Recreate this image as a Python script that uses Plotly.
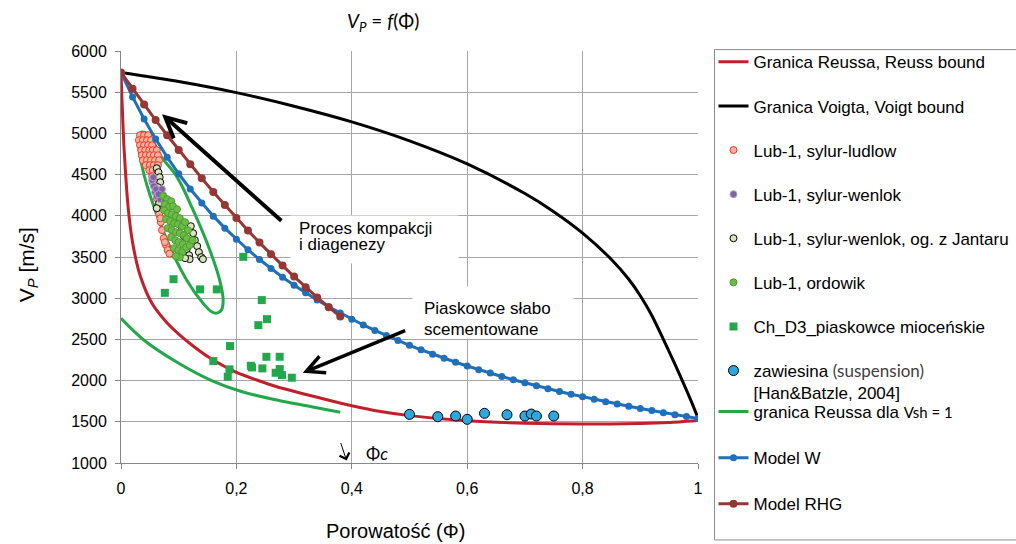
import plotly.graph_objects as go

# ---------------- data ----------------
x_tickvals = [0, 0.2, 0.4, 0.6, 0.8, 1.0]
x_ticktext = ["0", "0,2", "0,4", "0,6", "0,8", "1"]
y_tickvals = [1000, 1500, 2000, 2500, 3000, 3500, 4000, 4500, 5000, 5500, 6000]
y_ticktext = ["1000", "1500", "2000", "2500", "3000", "3500", "4000", "4500", "5000", "5500", "6000"]

reuss_phi = [0, 0.002, 0.005, 0.01, 0.015, 0.02, 0.03, 0.04, 0.05, 0.06, 0.08, 0.1, 0.125,
             0.155, 0.2, 0.27, 0.35, 0.4, 0.45, 0.5, 0.6, 0.7, 0.8, 0.9, 0.95, 1.0]
reuss_vp = [5740, 5350, 4850, 4300, 3930, 3680, 3350, 3140, 2985, 2870, 2700, 2565, 2420,
            2270, 2100, 1925, 1780, 1695, 1625, 1575, 1512, 1483, 1472, 1478, 1490, 1515]

voigt_phi = [0, 0.1, 0.2, 0.3, 0.4, 0.5, 0.6, 0.7, 0.75, 0.8, 0.85, 0.88, 0.9, 0.92, 0.94,
             0.96, 0.98, 0.99, 1.0]
voigt_vp = [5740, 5630, 5495, 5330, 5140, 4910, 4630, 4270, 4050, 3790, 3470, 3230, 3030, 2790,
            2500, 2200, 1885, 1720, 1545]

ludlow_phi = [0.033, 0.040, 0.047,
              0.031, 0.038, 0.045, 0.052,
              0.033, 0.040, 0.047, 0.054,
              0.035, 0.042, 0.049, 0.055, 0.062,
              0.036, 0.043, 0.050, 0.057, 0.064,
              0.038, 0.045, 0.052, 0.059, 0.066,
              0.043, 0.050, 0.057, 0.064,
              0.049, 0.055, 0.062,
              0.054, 0.061,
              0.055, 0.064,
              0.062, 0.064, 0.066, 0.069, 0.071, 0.074, 0.078, 0.081, 0.084, 0.076, 0.068]
ludlow_vp = [4978, 4978, 4978,
             4917, 4917, 4917, 4917,
             4856, 4856, 4856, 4856,
             4796, 4796, 4796, 4796, 4796,
             4735, 4735, 4735, 4735, 4735,
             4674, 4674, 4674, 4674, 4674,
             4614, 4614, 4614, 4614,
             4553, 4553, 4553,
             4480, 4480,
             4408, 4408,
             4214, 4117, 4020, 3923, 3826, 3729, 3644, 3583, 3540, 3680, 3970]

wenlok_phi = [0.054, 0.057, 0.059, 0.062, 0.068, 0.073, 0.076, 0.056, 0.061, 0.071, 0.065]
wenlok_vp = [4432, 4359, 4286, 4238, 4202, 4250, 4190, 4468, 4323, 4323, 4262]

jantar_phi = [0.062, 0.065, 0.067, 0.068, 0.064, 0.069, 0.068, 0.066, 0.062,
              0.102, 0.106, 0.109, 0.113, 0.114, 0.118, 0.119,
              0.121, 0.125, 0.128, 0.132, 0.135, 0.139, 0.142, 0.111]
jantar_vp = [4577, 4529, 4468, 4408, 4347, 4299, 4226, 4153, 4092,
             3923, 3838, 3753, 3668, 3595, 3522, 3474,
             3874, 3789, 3704, 3632, 3559, 3498, 3474, 3486]

ordowik_phi = [0.073, 0.080, 0.087, 0.076, 0.083, 0.090, 0.097, 0.075, 0.081, 0.088,
               0.095, 0.102, 0.078, 0.085, 0.092, 0.099, 0.106, 0.081, 0.088, 0.095,
               0.102, 0.109, 0.087, 0.094, 0.100, 0.107, 0.114, 0.092, 0.099, 0.106,
               0.113, 0.119, 0.102, 0.095, 0.124, 0.111, 0.116]
ordowik_vp = [4238, 4202, 4177, 4141, 4105, 4117, 4080, 4068, 4032, 4020,
              3996, 3971, 3959, 3935, 3911, 3898, 3874, 3850, 3826, 3801,
              3789, 3765, 3741, 3704, 3680, 3656, 3729, 3607, 3583, 3559,
              3619, 3644, 3498, 3510, 3704, 3923, 3826]

ch_phi = [0.076, 0.091, 0.137, 0.166, 0.212, 0.244, 0.238, 0.253, 0.189, 0.160, 0.188,
          0.185, 0.225, 0.227, 0.245, 0.252, 0.275, 0.268, 0.275, 0.279, 0.296]
ch_vp = [3065, 3231, 3107, 3107, 3502, 2977, 2673, 2746, 2419, 2237, 2136,
         2047, 2180, 2160, 2148, 2289, 2289, 2095, 2140, 2067, 2035]

susp_phi = [0.500, 0.549, 0.580, 0.600, 0.630, 0.669, 0.700, 0.711, 0.720, 0.750]
susp_vp = [1590, 1562, 1570, 1530, 1603, 1586, 1570, 1594, 1570, 1570]

green_phi = [0, 0.04, 0.1, 0.155, 0.21, 0.27, 0.33, 0.38]
green_vp = [2755, 2490, 2210, 2007, 1865, 1764, 1683, 1615]

w_phi = [0.00, 0.02, 0.04, 0.06, 0.08, 0.10, 0.12, 0.14, 0.16, 0.18, 0.20, 0.22, 0.24, 0.26,
         0.28, 0.30, 0.32, 0.34, 0.36, 0.38, 0.40, 0.42, 0.44, 0.46, 0.48, 0.50, 0.52, 0.54,
         0.56, 0.58, 0.60, 0.62, 0.64, 0.66, 0.68, 0.70, 0.72, 0.74, 0.76, 0.78, 0.80, 0.82,
         0.84, 0.86, 0.88, 0.90, 0.92, 0.94, 0.96, 0.98, 1.00]
w_vp = [5740, 5443, 5175, 4933, 4712, 4510, 4325, 4154, 3996, 3850, 3714, 3588, 3469, 3359,
        3255, 3157, 3065, 2978, 2896, 2819, 2745, 2675, 2609, 2546, 2486, 2428, 2374, 2321,
        2271, 2223, 2177, 2133, 2091, 2050, 2011, 1973, 1937, 1902, 1868, 1835, 1804, 1774,
        1744, 1716, 1688, 1662, 1636, 1611, 1586, 1563, 1540]

rhg_phi = [0.00, 0.02, 0.04, 0.06, 0.08, 0.10, 0.12, 0.14, 0.16, 0.18, 0.20, 0.22, 0.24,
           0.26, 0.28, 0.30, 0.32, 0.34, 0.36, 0.38]
rhg_vp = [5740, 5543, 5350, 5162, 4978, 4799, 4625, 4455, 4290, 4130, 3974, 3822, 3675,
          3533, 3396, 3263, 3134, 3010, 2891, 2777]

ellipse_phi = [0.031, 0.030, 0.038, 0.055, 0.085, 0.114, 0.142, 0.157, 0.166, 0.174, 0.177,
               0.171, 0.154, 0.125, 0.097, 0.068, 0.055, 0.045, 0.035, 0.031]
ellipse_vp = [4978, 4917, 4553, 4153, 3619, 3219, 2940, 2835, 2819, 2856, 2977,
              3219, 3583, 4068, 4472, 4735, 4917, 5002, 5014, 4978]

# ---------------- geometry helpers (pixel -> paper) ----------------
L, R, T, B = 121, 698.5, 50.7, 463.0
W, H = 1016, 544


def px(xp):
    return (xp - L) / (R - L)


def py(yp):
    return (B - yp) / (B - T)


ARIAL = "Liberation Sans, Arial"
CALIBRI = "Lato, Open Sans"

fig = go.Figure()

fig.add_trace(go.Scatter(x=ellipse_phi, y=ellipse_vp, mode="lines", line=dict(color="#22a84a", width=3, shape="spline"),
                         showlegend=False, hoverinfo="skip"))

fig.add_trace(go.Scatter(x=reuss_phi, y=reuss_vp, mode="lines", name="Granica Reussa, Reuss bound",
                         line=dict(color="#c0202c", width=3, shape="spline", smoothing=0.6),
                         legendgroup="a", legendrank=1))
fig.add_trace(go.Scatter(x=voigt_phi, y=voigt_vp, mode="lines", name="Granica Voigta, Voigt bound",
                         line=dict(color="#000000", width=3, shape="spline", smoothing=0.8),
                         legendgroup="b", legendrank=2))
fig.add_trace(go.Scatter(x=ludlow_phi, y=ludlow_vp, mode="markers", name="Lub-1, sylur-ludlow",
                         marker=dict(size=7, color="#f8b09c", line=dict(color="#ea3a2a", width=1)),
                         legendgroup="c", legendrank=3))
fig.add_trace(go.Scatter(x=jantar_phi, y=jantar_vp, mode="markers", name="Lub-1, sylur-wenlok, og. z Jantaru",
                         marker=dict(size=7, color="#d8e4bc", line=dict(color="#000000", width=1)),
                         legendgroup="e", legendrank=5))
fig.add_trace(go.Scatter(x=wenlok_phi, y=wenlok_vp, mode="markers", name="Lub-1, sylur-wenlok",
                         marker=dict(size=7, color="#8064a2", line=dict(color="#b3a2cf", width=1)),
                         legendgroup="d", legendrank=4))
fig.add_trace(go.Scatter(x=ordowik_phi, y=ordowik_vp, mode="markers", name="Lub-1, ordowik",
                         marker=dict(size=7, color="#6cbd45", line=dict(color="#4e9a34", width=1)),
                         legendgroup="f", legendrank=6))
fig.add_trace(go.Scatter(x=ch_phi, y=ch_vp, mode="markers", name="Ch_D3_piaskowce mioceńskie",
                         marker=dict(size=8, symbol="square", color="#22a84a"), legendgroup="g", legendrank=7))
fig.add_trace(go.Scatter(x=susp_phi, y=susp_vp, mode="markers",
                         name="zawiesina <span style='font-family:Lato;color:#404040'>(suspension)</span><br>[Han&Batzle, 2004]",
                         marker=dict(size=10, color="#2aa9e0", line=dict(color="#000000", width=1)),
                         legendgroup="h", legendrank=8))
fig.add_trace(go.Scatter(x=green_phi, y=green_vp, mode="lines",
                         name="granica Reussa dla <span style='font-family:Lato;font-size:15px'>Vsh = 1</span>",
                         line=dict(color="#22a84a", width=3, shape="spline"), legend="legend2",
                         legendgroup="i", legendrank=9))
fig.add_trace(go.Scatter(x=w_phi, y=w_vp, mode="lines+markers", name="Model W",
                         line=dict(color="#1f6fba", width=3), marker=dict(size=7, color="#1f6fba"),
                         legend="legend2", legendgroup="j", legendrank=10))
fig.add_trace(go.Scatter(x=rhg_phi, y=rhg_vp, mode="lines+markers", name="Model RHG",
                         line=dict(color="#953735", width=3), marker=dict(size=8, color="#953735"),
                         legend="legend2", legendgroup="k", legendrank=11))


def label(xp, yp, text, size, family=ARIAL, xanchor="center", **kw):
    return dict(x=px(xp), y=py(yp), xref="paper", yref="paper", xanchor=xanchor, yanchor="middle",
                showarrow=False, text=text, font=dict(family=family, size=size, color="#000"), **kw)


annotations = [
    label(383, 22, "<i>V<sub>P</sub></i> = <i>f</i>(Φ)", 19, CALIBRI),
    label(28, 265, "V<sub><i>P</i></sub> [m/s]", 21, textangle=-90),
    label(396, 531, "Porowatość (Φ)", 20),
    # arrows
    dict(x=0.071, y=5232, ax=0.2805, ay=3923, xref="x", yref="y", axref="x", ayref="y", text="",
         showarrow=True, arrowhead=5, arrowsize=1, arrowwidth=4, arrowcolor="#000"),
    dict(x=0.315, y=2095, ax=0.495, ay=2613, xref="x", yref="y", axref="x", ayref="y", text="",
         showarrow=True, arrowhead=5, arrowsize=1, arrowwidth=3.5, arrowcolor="#000"),
    dict(x=0.391, y=1030, ax=0.380, ay=1260, xref="x", yref="y", axref="x", ayref="y", text="",
         showarrow=True, arrowhead=4, arrowsize=2, arrowwidth=1, arrowcolor="#000"),
    # white boxes
    dict(x=px(290), y=py(215), xref="paper", yref="paper", xanchor="left", yanchor="top", showarrow=False,
         text=" ", bgcolor="#ffffff", width=167, height=47, borderpad=0),
    dict(x=px(412), y=py(286), xref="paper", yref="paper", xanchor="left", yanchor="top", showarrow=False,
         text=" ", bgcolor="#ffffff", width=160, height=51, borderpad=0),
    # box texts
    label(297, 228, "Proces kompakcji", 17, xanchor="left"),
    label(297, 244, "i diagenezy", 17, xanchor="left"),
    label(422, 308, "Piaskowce słabo", 17, xanchor="left"),
    label(422, 329, "scementowane", 17, xanchor="left"),
    # phi_c
    label(364, 453, "Φ<i>c</i>", 17, CALIBRI, xanchor="left"),
]

shapes = [
    dict(type="rect", xref="paper", yref="paper", x0=px(715), x1=px(1030), y0=py(540), y1=py(49.3),
         line=dict(color="#8c8c8c", width=1), fillcolor="rgba(0,0,0,0)", layer="below"),
]

fig.update_layout(
    width=W, height=H, autosize=False,
    margin=dict(l=L, r=W - R, t=T, b=H - B, pad=0, autoexpand=False),
    paper_bgcolor="#ffffff", plot_bgcolor="#ffffff",
    font=dict(family=ARIAL, size=16, color="#000"),
    annotations=annotations, shapes=shapes,
    legend=dict(x=px(714), y=py(44), xanchor="left", yanchor="top", bgcolor="rgba(0,0,0,0)",
                borderwidth=0, font=dict(family=ARIAL, size=17, color="#000"), maxheight=480,
                tracegroupgap=19, traceorder="grouped", valign="top", itemwidth=30),
    legend2=dict(x=px(714), y=py(394), xanchor="left", yanchor="top", bgcolor="rgba(0,0,0,0)",
                 borderwidth=0, font=dict(family=ARIAL, size=17, color="#000"), maxheight=200,
                 tracegroupgap=21, traceorder="grouped", valign="top", itemwidth=30),
    xaxis=dict(range=[0, 1], tickvals=x_tickvals, ticktext=x_ticktext, showgrid=True, gridcolor="#a6a6a6",
               gridwidth=1, showline=True, linecolor="#868686", linewidth=1, ticks="outside", ticklen=5,
               tickcolor="#868686", zeroline=False, tickfont=dict(family=ARIAL, size=16, color="#000"),
               ticklabelstandoff=6),
    yaxis=dict(range=[1000, 6000], tickvals=y_tickvals, ticktext=y_ticktext, showgrid=True, gridcolor="#a6a6a6",
               gridwidth=1, showline=True, linecolor="#868686", linewidth=1, ticks="outside", ticklen=5,
               tickcolor="#868686", zeroline=False, tickfont=dict(family=ARIAL, size=16, color="#000"),
               ticklabelstandoff=5),
)

fig.write_html("out.html")
